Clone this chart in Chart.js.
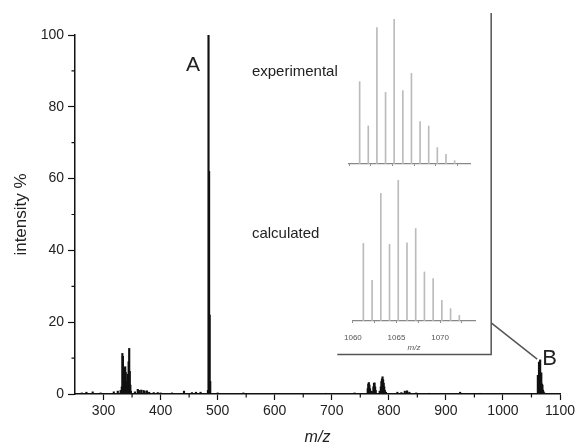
<!DOCTYPE html>
<html lang="en">
<head>
    <meta charset="UTF-8">
    <title>Mass spectrum</title>
    <script src="https://cdn.jsdelivr.net/npm/chart.js"></script>
    <style>
        body { margin: 0; background: #fff; }
        #wrap { position: relative; width: 575px; height: 444px; }
        #wrap canvas { position: absolute; }
    </style>
</head>
<body>
<div id="wrap">
    <canvas id="main" width="575" height="444" style="left:0;top:0"></canvas>
    <canvas id="exp" width="123" height="149" style="left:348px;top:19px"></canvas>
    <canvas id="calc" width="156" height="173" style="left:334px;top:180px"></canvas>
</div>

<script>
    // full spectrum, m/z and intensity %
    const mz = [262, 270, 281, 295, 318, 325, 330,
        332, 333, 334, 335, 336, 337, 338, 339, 340, 341, 342, 343, 344, 345, 346, 347, 348,
        355, 360, 362, 366, 370, 372, 376, 380, 388, 395, 400, 420, 441, 455, 462, 470,
        483, 484, 485, 486, 487,
        500, 545, 600, 690, 740,
        763, 764, 765, 766, 767, 770, 773, 774, 775, 776, 777, 784, 786, 787, 788, 789, 790, 791, 792, 793, 795,
        815, 822, 828, 832, 836, 848, 870, 925, 960,
        1061.2, 1062.2, 1063.2, 1064.2, 1065.2, 1066.2, 1067.2, 1068.2, 1069.2, 1070.2, 1071.2, 1072.2];
    const intensity = [0.3, 0.5, 0.6, 0.3, 0.6, 0.8, 1.0,
        2.0, 11.3, 10.5, 7.0, 6.5, 7.3, 7.6, 6.0, 3.5, 2.0, 1.5, 5.5, 9.0, 12.7, 6.3, 2.5, 0.8,
        0.6, 1.3, 1.0, 1.1, 1.0, 0.8, 0.9, 0.5, 0.4, 0.4, 0.3, 0.3, 0.8, 0.4, 0.5, 0.5,
        1.0, 100, 62, 22, 3.5,
        0.3, 0.3, 0.2, 0.2, 0.3,
        1.5, 2.8, 3.2, 2.5, 1.5, 0.8, 2.0, 3.0, 3.1, 2.0, 1.0, 0.8, 2.0, 3.5, 4.2, 4.8, 4.0, 3.0, 2.0, 1.0, 0.5,
        0.5, 0.4, 0.8, 0.9, 0.5, 0.3, 0.2, 0.5, 0.2,
        5.2, 2.6, 8.9, 4.7, 9.5, 4.8, 5.9, 2.8, 2.5, 1.1, 0.6, 0.3];

    // isotope pattern of peak B (inset)
    const isoMz = [1061.2, 1062.2, 1063.2, 1064.2, 1065.2, 1066.2, 1067.2, 1068.2, 1069.2, 1070.2, 1071.2, 1072.2];
    const isoExperimental = [56.8, 26.2, 94, 49.4, 100, 50.6, 62.5, 29.2, 26.2, 11.3, 6.7, 2.3];
    const isoCalculated = [55, 28.9, 90.5, 54.3, 100, 55.5, 65.6, 34.8, 30.1, 14.7, 8.8, 4.0];

    const xTicks = [300, 400, 500, 600, 700, 800, 900, 1000, 1100];
    const xMinor = [350, 450, 550, 650, 750, 850, 950, 1050];
    const yTicks = [0, 20, 40, 60, 80, 100];
    const yMinor = [10, 30, 50, 70, 90];
    const insetTicks = [1060, 1062.5, 1065, 1067.5, 1070, 1072.5];

    Chart.defaults.font.family = 'Liberation Sans';
    Chart.defaults.color = '#222';

    const decor = {
        id: 'decor',
        afterDraw(chart) {
            const { ctx, scales: { x, y } } = chart;
            const px = v => x.getPixelForValue(v);
            const py = v => y.getPixelForValue(v);
            ctx.save();
            // minor ticks
            ctx.strokeStyle = '#111';
            ctx.lineWidth = 1.2;
            ctx.beginPath();
            xMinor.forEach(v => { ctx.moveTo(px(v), y.bottom); ctx.lineTo(px(v), y.bottom + 3.5); });
            yMinor.forEach(v => { ctx.moveTo(x.left - 3.5, py(v)); ctx.lineTo(x.left, py(v)); });
            ctx.stroke();
            // inset frame and leader to B
            ctx.strokeStyle = '#555';
            ctx.lineWidth = 1.5;
            ctx.beginPath();
            ctx.moveTo(px(709.7), py(11));
            ctx.lineTo(px(979.4), py(11));
            ctx.lineTo(px(979.4), py(106.1));
            ctx.moveTo(px(979.4), py(19.8));
            ctx.lineTo(px(1060), py(9.7));
            ctx.stroke();
            // labels
            ctx.fillStyle = '#222';
            ctx.textBaseline = 'middle';
            ctx.textAlign = 'center';
            ctx.font = '21px "Liberation Sans"';
            ctx.fillText('A', px(457), py(91.6));
            ctx.font = '22px "Liberation Sans"';
            ctx.fillText('B', px(1081.7), py(9.7));
            ctx.textAlign = 'left';
            ctx.font = '15px "Liberation Sans"';
            ctx.fillText('experimental', px(560), py(89.7));
            ctx.fillText('calculated', px(560), py(44.6));
            ctx.restore();
        }
    };

    new Chart(document.getElementById('main'), {
        type: 'bar',
        data: {
            datasets: [{
                data: mz.map((m, i) => ({ x: m, y: intensity[i] })),
                backgroundColor: '#111',
                borderWidth: 0,
                barThickness: 1.5
            }]
        },
        options: {
            responsive: false,
            animation: false,
            layout: { padding: { top: 35, right: 15, left: 0, bottom: 0 } },
            plugins: { legend: { display: false }, tooltip: { enabled: false } },
            scales: {
                x: {
                    type: 'linear', min: 250, max: 1100, offset: false,
                    afterBuildTicks: s => { s.ticks = xTicks.map(v => ({ value: v })); },
                    afterFit: s => { s.height = 50; s.paddingRight = 0; },
                    border: { color: '#111', width: 1.5 },
                    grid: { drawOnChartArea: false, offset: false, tickLength: 6, tickColor: '#111', tickWidth: 1.2 },
                    ticks: { font: { size: 14 }, padding: 3, maxRotation: 0, autoSkip: false, callback: v => String(v) },
                    title: { display: true, text: 'm/z', font: { size: 16, style: 'italic', lineHeight: 1 }, padding: { top: 0, bottom: -2 } }
                },
                y: {
                    min: 0, max: 100,
                    afterBuildTicks: s => { s.ticks = yTicks.map(v => ({ value: v })); },
                    afterFit: s => { s.width = 75; },
                    border: { color: '#111', width: 1.5 },
                    grid: { drawOnChartArea: false, tickLength: 7, tickColor: '#111', tickWidth: 1.2 },
                    ticks: { font: { size: 14 }, padding: 4, callback: v => String(v) },
                    title: { display: true, text: 'intensity %', font: { size: 17, lineHeight: 1 }, padding: { top: 13, bottom: 0 } }
                }
            }
        },
        plugins: [decor]
    });

    function inset(id, values, min, max, showLabels, padX, axisHeight) {
        return new Chart(document.getElementById(id), {
            type: 'bar',
            data: {
                datasets: [{
                    data: isoMz.map((m, i) => ({ x: m, y: values[i] })),
                    backgroundColor: '#bbb',
                    borderWidth: 0,
                    barThickness: 1
                }]
            },
            options: {
                responsive: false,
                animation: false,
                layout: { padding: { top: 0, bottom: 0, left: padX, right: padX } },
                plugins: { legend: { display: false }, tooltip: { enabled: false } },
                scales: {
                    x: {
                        type: 'linear', min: min, max: max, offset: false,
                        afterBuildTicks: s => { s.ticks = insetTicks.map(v => ({ value: v })); },
                        afterFit: s => { s.height = axisHeight; },
                        border: { color: '#888', width: 1.3 },
                        grid: { drawOnChartArea: false, offset: false, tickLength: 2, tickColor: '#888', tickWidth: 1 },
                        ticks: {
                            display: showLabels, font: { size: 8 }, color: '#555', padding: 10,
                            maxRotation: 0, autoSkip: false,
                            callback: v => (v % 5 === 0 ? String(v) : '')
                        },
                        title: {
                            display: showLabels, text: 'm/z', color: '#555',
                            font: { size: 8, style: 'italic' }, padding: { top: 0, bottom: 0 }
                        }
                    },
                    y: { display: false, min: 0, max: 100 }
                }
            }
        });
    }

    inset('exp', isoExperimental, 1059.85, 1074.1, false, 0, 4);
    inset('calc', isoCalculated, 1060, 1074, true, 15, 32);
</script>
</body>
</html>
